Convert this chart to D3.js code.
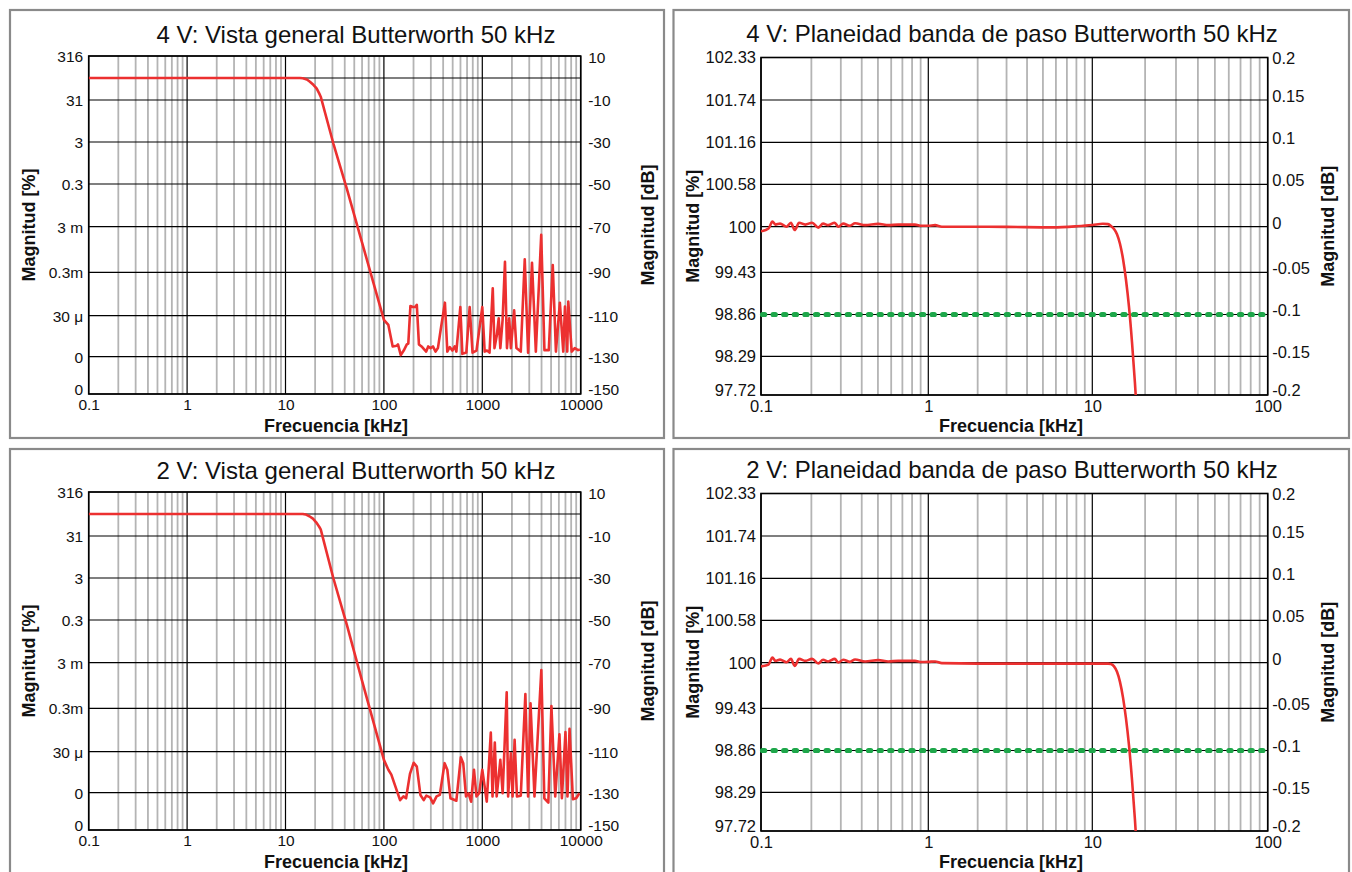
<!DOCTYPE html>
<html><head><meta charset="utf-8">
<script src="https://cdn.jsdelivr.net/npm/d3@7"></script>
<style>
body{margin:0;background:#fff}
svg{display:block}
</style>
</head><body>
<svg id="c" width="1352" height="872"></svg>
<script>
// ---------------- DATA ----------------
const panelTitles = [
  "4 V: Vista general Butterworth 50 kHz",
  "4 V: Planeidad banda de paso Butterworth 50 kHz",
  "2 V: Vista general Butterworth 50 kHz",
  "2 V: Planeidad banda de paso Butterworth 50 kHz"
];
const xAxisTitle = "Frecuencia [kHz]";
const yLeftTitle = "Magnitud [%]";
const yRightTitle = "Magnitud [dB]";

const overviewFreqTicks = [0.1, 1, 10, 100, 1000, 10000];
const overviewFreqLabels = ["0.1", "1", "10", "100", "1000", "10000"];
const overviewDbTicks = [10, -10, -30, -50, -70, -90, -110, -130, -150];
const overviewDbLabels = ["10", "-10", "-30", "-50", "-70", "-90", "-110", "-130", "-150"];
const overviewPctLabels = ["316", "31", "3", "0.3", "3 m", "0.3m", "30 μ", "0", "0"];
const overviewExtraGridDb = [0];

const flatFreqTicks = [0.1, 1, 10, 100];
const flatFreqLabels = ["0.1", "1", "10", "100"];
const flatDbTicks = [0.2, 0.15, 0.1, 0.05, 0, -0.05, -0.1, -0.15, -0.2];
const flatDbLabels = ["0.2", "0.15", "0.1", "0.05", "0", "-0.05", "-0.1", "-0.15", "-0.2"];
const flatPctLabels = ["102.33", "101.74", "101.16", "100.58", "100", "99.43", "98.86", "98.29", "97.72"];
const passbandLimitDb = -0.1;

// [frequency kHz, magnitude dB]
const overview4V = [
  [0.1,0],[14,0],[15,-0.1],[16.5,-0.7],[17.7,-1.7],[19.2,-3.1],[20.7,-4.7],[22,-7],[22.8,-8.5],
  [30.6,-30.6],[41.9,-52],[60,-77],[100,-112],[111,-114.5],[122.8,-125],[134.7,-124.7],[139,-124],
  [148.5,-129.2],[159,-127],[171,-124],[177,-123.6],[186,-105.5],[196,-106],[208,-106],[216,-105],
  [227,-124],[245,-125.3],[269,-127.5],[282,-125],[298,-125.8],[315,-125],[335,-127.5],[354,-125.8],
  [380,-116],[417,-104],[441,-127.5],[467,-125.3],[496,-127],[524,-125],[545,-127.5],[598,-106],
  [627,-128.6],[688,-128],[744,-106],[796,-128],[873,-127],[1000,-106],[1057,-127.5],[1115,-127],
  [1184,-128],[1277,-97.4],[1330,-125.8],[1403,-119.7],[1468,-111.3],[1525,-125.8],[1608,-112],
  [1700,-85.4],[1781,-125.8],[1878,-111.3],[1952,-125.8],[2107,-107.5],[2222,-125.8],[2460,-127.5],
  [2700,-84.3],[2920,-128],[3200,-85.8],[3500,-127.5],[3970,-73.6],[4280,-126.8],[4740,-126.8],
  [5200,-86.8],[5600,-127.5],[6140,-104],[6650,-127.5],[6920,-105.8],[7300,-127.5],[7480,-103.5],
  [8100,-127.5],[8700,-125.8],[9400,-126.8],[9800,-126.5]
];
const overview2V = [
  [0.1,0],[15,0],[16,-0.2],[17.5,-1],[19,-2.1],[20.5,-3.8],[22,-5.8],[22.8,-7],
  [30.6,-30],[41.9,-52],[60,-78],[100,-114],[111,-118.8],[119,-121.2],[146,-134],[158,-132],[168,-133],
  [184,-120.8],[201,-115.4],[216,-117.3],[235,-131.2],[254,-134],[270,-131.6],[295,-132.5],[316,-135.7],
  [343,-132],[370,-131.2],[414,-115.6],[441,-118.8],[475,-133],[545,-134.3],[605,-112.7],[640,-115.6],
  [683,-132],[723,-130.3],[770,-134.8],[823,-118.8],[873,-132],[930,-130.3],[1000,-118.8],[1110,-134.8],
  [1220,-101.2],[1270,-132],[1340,-105.8],[1400,-132],[1525,-114],[1610,-130.3],[1770,-83],[1830,-132],
  [1950,-110.8],[2030,-132],[2130,-104.5],[2250,-132],[2460,-131.6],[2740,-83.7],[2920,-132],[3090,-87.8],
  [3390,-132],[3980,-73.2],[4270,-133],[4690,-135.3],[5040,-89],[5510,-132],[6080,-102],[6440,-133],
  [7000,-101],[7340,-132],[7700,-99.4],[8330,-133.5],[8990,-133],[9700,-130.3]
];
const flat4V = [
  [0.1,-0.005],[0.111,-0.002],[0.117,0.006],[0.122,0.0025],[0.13,0.0036],[0.142,0],[0.151,0.0047],
  [0.159,-0.0037],[0.169,0.0047],[0.184,0.0025],[0.202,0.0047],[0.22,-0.001],[0.235,0.0036],[0.252,0.0018],
  [0.276,0.0047],[0.29,0],[0.31,0.0036],[0.34,0.0011],[0.365,0.004],[0.419,0.0018],[0.502,0.0033],
  [0.577,0.0018],[0.661,0.0025],[0.832,0.0025],[0.91,0.0011],[1.0,0.0011],[1.1,0.0018],[1.21,0],
  [1.5,0],[3,-0.0002],[5.75,-0.0007],[8,0.0005],[10,0.002],[11.5,0.0035],[12.29,0.003],[12.78,0.0008],
  [13.3,-0.0026],[13.83,-0.0083],[14.38,-0.0187],[14.96,-0.0351],[15.56,-0.0588],[16.19,-0.091],
  [16.84,-0.133],[17.51,-0.185],[17.98,-0.227]
];
const flat2V = [
  [0.1,-0.004],[0.111,-0.002],[0.117,0.006],[0.122,0.0022],[0.13,0.0036],[0.142,0.0005],[0.151,0.0045],
  [0.159,-0.0035],[0.169,0.0045],[0.184,0.0022],[0.202,0.0045],[0.22,-0.0008],[0.235,0.0035],[0.252,0.0015],
  [0.276,0.0045],[0.29,0.0002],[0.31,0.0035],[0.34,0.001],[0.365,0.0038],[0.419,0.0015],[0.502,0.003],
  [0.577,0.0015],[0.661,0.0022],[0.832,0.0022],[0.91,0.0008],[1.0,0.001],[1.1,0.0015],[1.21,-0.0005],
  [2,-0.001],[5,-0.001],[10,-0.001],[12.29,-0.001],[12.78,-0.0015],[13.3,-0.004],[13.83,-0.01],
  [14.38,-0.021],[14.96,-0.038],[15.56,-0.062],[16.19,-0.094],[16.84,-0.135],[17.51,-0.186],[17.98,-0.227]
];

// ---------------- LAYOUT ----------------
const FONT = '"Liberation Sans", Arial, Helvetica, sans-serif';
const RED = "#ec3030";
const overviewLayout = {
  xDomain: [0.1, 10000], xRange: [88.7, 580.7],
  yStops: [56, 100, 142, 184, 226.7, 272.3, 315.7, 356.7, 394],
  titleX: 356, titleY: 43, leftTitleX: 29, rightTitleX: 647.5, tickFont: 15.5,
  leftPad: 5.5, rightPad: 7.5, rightDy: 0, bottomPad: 5, xTitleX: 336, xTitleY: 432
};
const flatLayout = {
  xDomain: [0.1, 1, 10, 100], xRange: [761, 928.3, 1092.3, 1267.7],
  yStops: [57.5, 100, 142.3, 184.3, 226.7, 272.3, 314.5, 356.3, 395],
  titleX: 1012, titleY: 42, leftTitleX: 692.5, rightTitleX: 1328, tickFont: 16.5,
  leftPad: 5, rightPad: 4.5, rightDy: -4, bottomPad: 5, xTitleX: 1011, xTitleY: 432
};
const frames = [
  {x: 10, y: 10, w: 654, h: 428},
  {x: 673.5, y: 10, w: 675.5, h: 428},
  {x: 10, y: 449, w: 654, h: 440},
  {x: 673.5, y: 449, w: 675.5, h: 440}
];
const panels = [
  {kind: "overview", dy: 0, title: panelTitles[0], data: overview4V, frame: frames[0]},
  {kind: "flat", dy: 0, title: panelTitles[1], data: flat4V, frame: frames[1]},
  {kind: "overview", dy: 436, title: panelTitles[2], data: overview2V, frame: frames[2]},
  {kind: "flat", dy: 436, title: panelTitles[3], data: flat2V, frame: frames[3]}
];

const svg = d3.select("#c");

panels.forEach((p, pi) => {
  const isOv = p.kind === "overview";
  const lay = isOv ? overviewLayout : flatLayout;
  const dbTicks = isOv ? overviewDbTicks : flatDbTicks;
  const dbLabels = isOv ? overviewDbLabels : flatDbLabels;
  const pctLabels = isOv ? overviewPctLabels : flatPctLabels;
  const fTicks = isOv ? overviewFreqTicks : flatFreqTicks;
  const fLabels = isOv ? overviewFreqLabels : flatFreqLabels;

  svg.append("rect")
    .attr("x", p.frame.x).attr("y", p.frame.y).attr("width", p.frame.w).attr("height", p.frame.h)
    .attr("fill", "none").attr("stroke", "#8a8a8a").attr("stroke-width", 2.2);

  const g = svg.append("g").attr("transform", `translate(0,${p.dy})`);
  const x = d3.scaleLog().domain(lay.xDomain).range(lay.xRange);
  const y = d3.scaleLinear().domain(dbTicks).range(lay.yStops);
  const L = lay.xRange[0], R = lay.xRange[lay.xRange.length - 1];
  const T = lay.yStops[0], B = lay.yStops[lay.yStops.length - 1];

  // title
  g.append("text").attr("x", lay.titleX).attr("y", lay.titleY)
    .attr("text-anchor", "middle").style("font-family", FONT).style("font-size", "24px")
    .attr("fill", "#111").text(p.title);

  // minor vertical grid
  const lo = lay.xDomain[0], hi = lay.xDomain[lay.xDomain.length - 1];
  const minor = [];
  for (let d = lo; d < hi * 0.99; d *= 10) for (let k = 2; k <= 9; k++) minor.push(k * d);
  g.append("g").selectAll("line").data(minor).join("line")
    .attr("x1", d => x(d)).attr("x2", d => x(d)).attr("y1", T).attr("y2", B)
    .attr("stroke", "#b4b4b4").attr("stroke-width", 1.8);

  // major grid
  g.append("g").selectAll("line").data(fTicks).join("line")
    .attr("x1", d => x(d)).attr("x2", d => x(d)).attr("y1", T).attr("y2", B)
    .attr("stroke", "#000").attr("stroke-width", 1.2);
  const hLines = dbTicks.concat(isOv ? overviewExtraGridDb : []);
  g.append("g").selectAll("line").data(hLines).join("line")
    .attr("x1", L).attr("x2", R).attr("y1", d => y(d)).attr("y2", d => y(d))
    .attr("stroke", "#000").attr("stroke-width", 1.2);

  // frame of plot
  g.append("rect").attr("x", L).attr("y", T).attr("width", R - L).attr("height", B - T)
    .attr("fill", "none").attr("stroke", "#000").attr("stroke-width", 1.6);

  // clip
  const cid = "clip" + pi;
  g.append("clipPath").attr("id", cid).append("rect")
    .attr("x", L).attr("y", T).attr("width", R - L).attr("height", B - T);

  // limit line
  if (!isOv) {
    g.append("line").attr("x1", L + 1.5).attr("x2", R)
      .attr("y1", y(passbandLimitDb)).attr("y2", y(passbandLimitDb))
      .attr("stroke", "#1ea74a").attr("stroke-width", 5.2)
      .attr("stroke-linecap", "round").attr("stroke-dasharray", "2.2 8.4");
  }

  // data line
  const line = d3.line().x(d => x(d[0])).y(d => y(d[1]))
    .curve(isOv ? d3.curveLinear : d3.curveMonotoneX);
  g.append("path").datum(p.data).attr("clip-path", `url(#${cid})`)
    .attr("d", line).attr("fill", "none").attr("stroke", RED)
    .attr("stroke-width", 2.6).attr("stroke-linejoin", "round");

  // axes
  const styleAxis = sel => {
    sel.select(".domain").remove();
    sel.attr("font-family", null).attr("font-size", null);
    sel.selectAll("text").style("font-family", FONT).style("font-size", lay.tickFont + "px").attr("fill", "#111");
  };
  const last = dbTicks.length - 1;
  const axL = d3.axisLeft(y).tickValues(dbTicks).tickFormat((d, i) => pctLabels[i])
    .tickSize(0).tickPadding(lay.leftPad);
  const gL = g.append("g").attr("transform", `translate(${L},0)`).call(axL).call(styleAxis);
  gL.selectAll("text").attr("dy", (d, i) => (i === last ? -5 : 0) + 5.3 + "px");
  const axR = d3.axisRight(y).tickValues(dbTicks).tickFormat((d, i) => dbLabels[i])
    .tickSize(0).tickPadding(lay.rightPad);
  const gR = g.append("g").attr("transform", `translate(${R},0)`).call(axR).call(styleAxis);
  gR.selectAll("text").attr("dy", (d, i) => (i === last ? -5 : (i === 0 ? 1 : lay.rightDy)) + 5.3 + "px");
  const axB = d3.axisBottom(x).tickValues(fTicks).tickFormat((d, i) => fLabels[i])
    .tickSize(0).tickPadding(lay.bottomPad);
  g.append("g").attr("transform", `translate(0,${B})`).call(axB).call(styleAxis);

  // axis titles
  const bold = s => s.style("font-family", FONT).style("font-size", "18px").style("font-weight", "bold").attr("fill", "#111");
  g.append("text").attr("x", lay.xTitleX).attr("y", lay.xTitleY).attr("text-anchor", "middle").call(bold).text(xAxisTitle);
  const cy = (T + B) / 2;
  g.append("text").attr("transform", `translate(${lay.leftTitleX},${cy}) rotate(-90)`)
    .attr("text-anchor", "middle").attr("dy", "0.35em").call(bold).text(yLeftTitle);
  g.append("text").attr("transform", `translate(${lay.rightTitleX},${cy}) rotate(-90)`)
    .attr("text-anchor", "middle").attr("dy", "0.35em").call(bold).text(yRightTitle);
});
</script>
</body></html>
